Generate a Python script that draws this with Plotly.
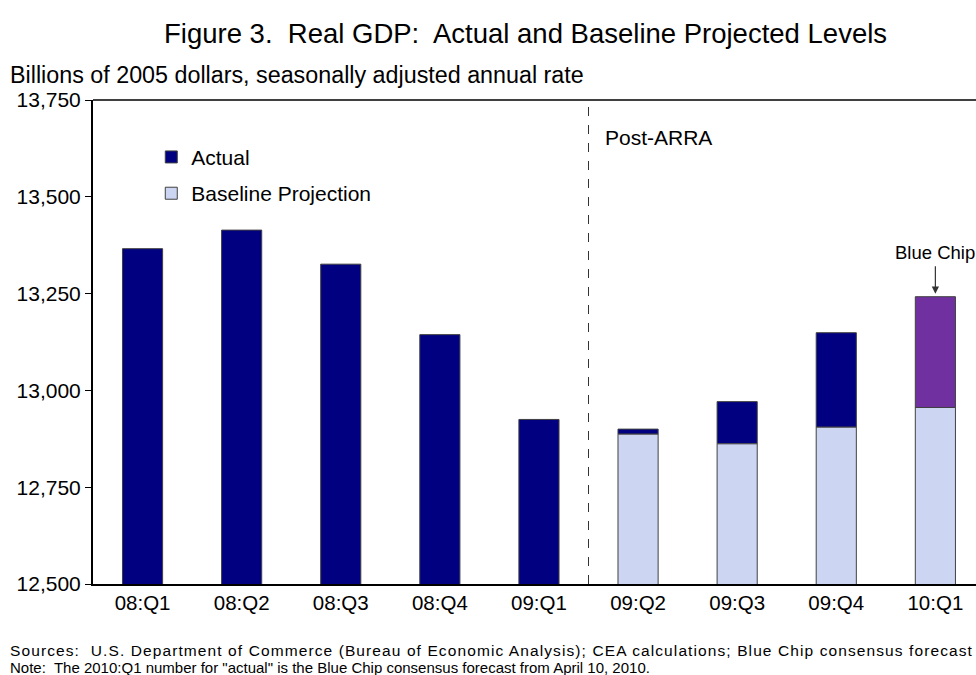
import plotly.graph_objects as go

quarters = ["08:Q1", "08:Q2", "08:Q3", "08:Q4", "09:Q1", "09:Q2", "09:Q3", "09:Q4", "10:Q1"]
actual = [13366, 13414, 13326, 13144, 12925, 12900, 12971, 13149, None]
baseline = [None, None, None, None, None, 12887, 12862, 12905, 12956]
blue_chip = [None, None, None, None, None, None, None, None, 13242]
y_ticks = [12500, 12750, 13000, 13250, 13500, 13750]

FONT = "Liberation Sans, Arial, sans-serif"
NAVY = "#000080"
LIGHT = "#CCD6F2"
PURPLE = "#7030A0"
OUTLINE = "#404040"
BW = 0.405

# actual bars sit on top of the baseline projection where one exists
act_base = [b if b is not None else 0 for b in baseline]
act_len = [(a - b) if a is not None else None for a, b in zip(actual, act_base)]
bc_len = [(c - b) if c is not None else None for c, b in zip(blue_chip, act_base)]

fig = go.Figure()
fig.add_trace(go.Bar(
    x=quarters, y=act_len, base=act_base, name="Actual",
    marker=dict(color=NAVY, line=dict(color=OUTLINE, width=1)),
    width=BW, legendgroup="a",
))
fig.add_trace(go.Bar(
    x=quarters, y=baseline, name="Baseline Projection",
    marker=dict(color=LIGHT, line=dict(color=OUTLINE, width=1)),
    width=BW, legendgroup="b",
))
fig.add_trace(go.Bar(
    x=quarters, y=bc_len, base=act_base, name="Blue Chip",
    marker=dict(color=PURPLE, line=dict(color=OUTLINE, width=1)),
    width=BW, showlegend=False,
))

fig.update_layout(
    width=976, height=675,
    margin=dict(l=93, r=0, t=100, b=91),
    paper_bgcolor="white", plot_bgcolor="white",
    barmode="overlay",
    font=dict(family=FONT, size=19, color="black"),
    showlegend=True,
    legend=dict(
        x=0.066, y=0.924, xanchor="left", yanchor="top",
        bgcolor="rgba(0,0,0,0)", font=dict(size=21),
        traceorder="grouped", tracegroupgap=6, itemwidth=30,
    ),
    xaxis=dict(
        categoryorder="array", categoryarray=quarters,
        range=[-0.5, 8.41], showline=True, linecolor="black", linewidth=1.5,
        ticks="", showgrid=False, zeroline=False,
        tickfont=dict(size=20.5),
    ),
    yaxis=dict(
        range=[12500, 13750], tickvals=y_ticks,
        ticktext=[f"{v:,}" for v in y_ticks],
        showline=True, linecolor="black", linewidth=2,
        ticks="outside", ticklen=6, tickwidth=1, tickcolor="black",
        showgrid=False, zeroline=False, tickfont=dict(size=21),
    ),
    shapes=[
        dict(type="line", xref="paper", yref="paper", x0=0, x1=1, y0=1, y1=1,
             line=dict(color="black", width=1.5)),
        dict(type="line", xref="x", yref="paper", x0=4.5, x1=4.5, y0=0, y1=1,
             line=dict(color="#333333", width=1, dash="dash")),
    ],
    annotations=[
        dict(text="Figure 3.  Real GDP:  Actual and Baseline Projected Levels",
             xref="paper", yref="paper", x=0.5, y=1, xanchor="center", yanchor="middle",
             showarrow=False, font=dict(size=27.5), yshift=67, xshift=-9),
        dict(text="Billions of 2005 dollars, seasonally adjusted annual rate",
             xref="paper", yref="paper", x=-93/883, y=1, xanchor="left", yanchor="middle",
             xshift=8, yshift=25, showarrow=False, font=dict(size=23.3)),
        dict(text="Post-ARRA", xref="x", yref="y", x=4.65, y=13654,
             xanchor="left", yanchor="middle", showarrow=False, font=dict(size=21)),
        dict(text="Blue Chip", xref="x", yref="y", x=8, y=13355,
             xanchor="center", yanchor="middle", showarrow=False, font=dict(size=18.5)),
        dict(text="", xref="x", yref="y", x=8, y=blue_chip[8], showarrow=True,
             ax=0, ay=-32, arrowhead=2, arrowsize=1.2, arrowwidth=1.2,
             arrowcolor="#333333", standoff=3),
        dict(text="<span style=\"letter-spacing:1.1px\">Sources:  U.S. Department of Commerce (Bureau of Economic Analysis); CEA calculations; Blue Chip consensus forecast</span>",
             xref="paper", yref="paper", x=-93/883, y=0, xanchor="left", yanchor="middle",
             xshift=8, yshift=-66, align="left", showarrow=False,
             font=dict(size=15.5)),
        dict(text="Note:  The 2010:Q1 number for \"actual\" is the Blue Chip consensus forecast from April 10, 2010.",
             xref="paper", yref="paper", x=-93/883, y=0, xanchor="left", yanchor="middle",
             xshift=8, yshift=-83, align="left", showarrow=False,
             font=dict(size=15)),
    ],
)

fig.write_html("out.html")
